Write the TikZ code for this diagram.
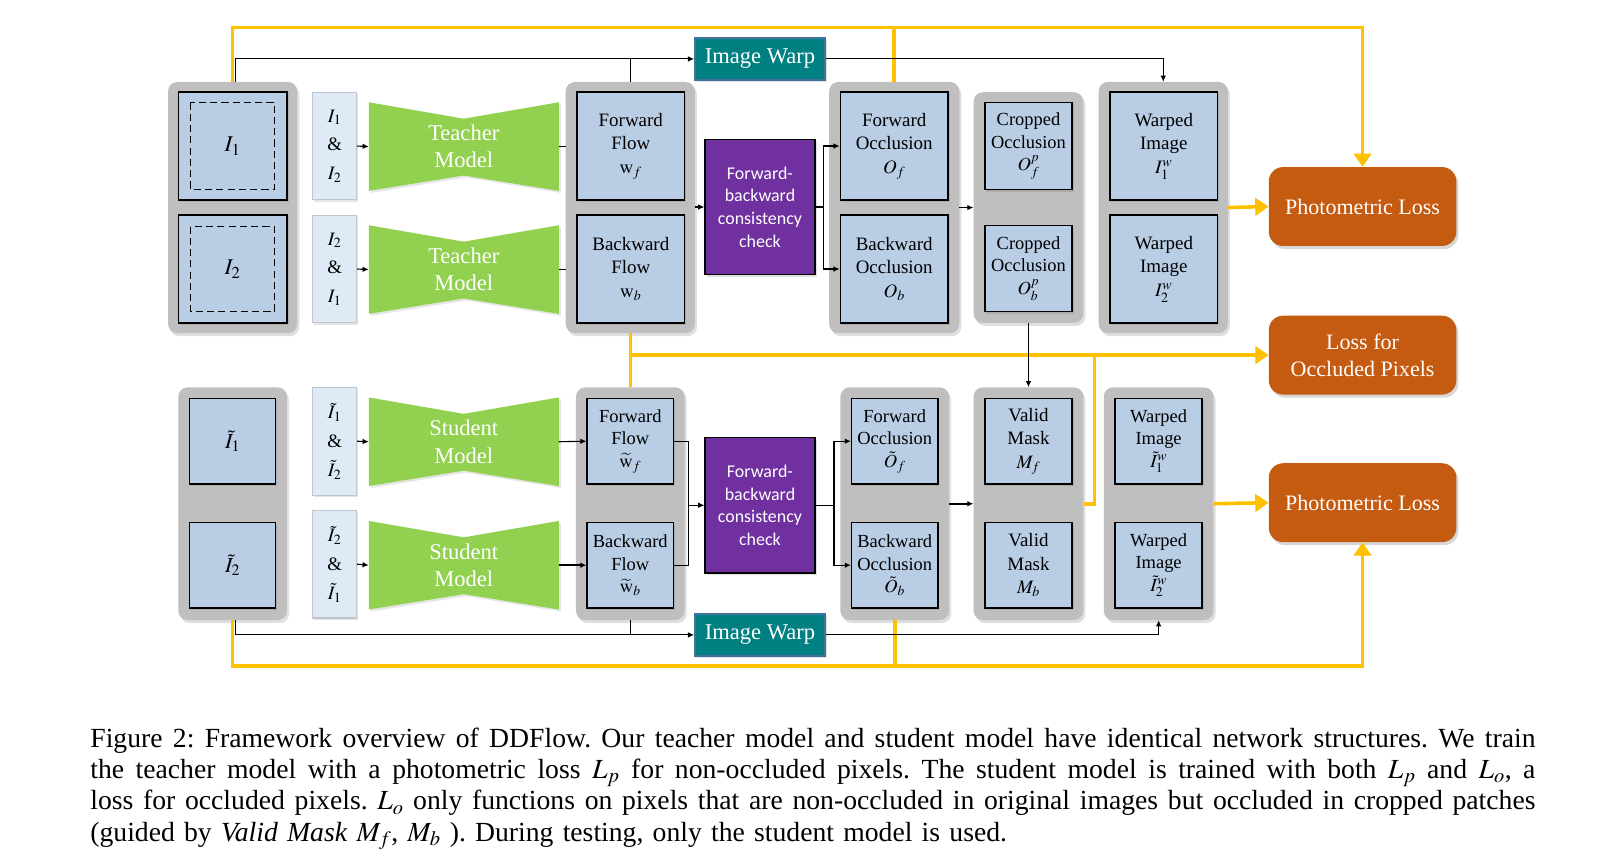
\documentclass[tikz,border=0pt]{standalone}
\usepackage{mathptmx}
\usepackage{fontspec}
\setmainfont{Liberation Serif}
\newfontfamily\calib{Carlito}
\usetikzlibrary{arrows.meta,shadows,calc}
\definecolor{boxblue}{HTML}{B9CDE5}
\definecolor{pairblue}{HTML}{DEEBF7}
\definecolor{pairedge}{HTML}{BFC6D0}
\definecolor{grp}{HTML}{BFBFBF}
\definecolor{modelgreen}{HTML}{92D050}
\definecolor{fbpurple}{HTML}{7030A0}
\definecolor{warpteal}{HTML}{008080}
\definecolor{warpedge}{HTML}{41719C}
\definecolor{lossorange}{HTML}{C55A11}
\definecolor{yel}{HTML}{FFC000}
\tikzset{
  grpbox/.style={fill=grp, rounded corners=9pt, draw=none,
    drop shadow={opacity=0.25, shadow xshift=2pt, shadow yshift=-3pt}},
  bbox/.style={fill=boxblue, draw=black, line width=1.5pt, align=center,
    inner sep=0pt, font=\fontsize{18.5}{23}\selectfont,
    drop shadow={opacity=0.3, shadow xshift=1.5pt, shadow yshift=-2pt}},
  pairbox/.style={fill=pairblue, draw=pairedge, line width=1pt, align=center,
    inner sep=0pt, minimum width=43pt, minimum height=105pt,
    font=\fontsize{18.5}{28}\selectfont,
    drop shadow={opacity=0.2, shadow xshift=1.5pt, shadow yshift=-2pt}},
  modelnode/.style={minimum width=185pt, minimum height=86pt, inner sep=0pt,
    align=center, text=white, font=\fontsize{22}{26.5}\selectfont},
  fbbox/.style={fill=fbpurple, draw=black, line width=1.5pt, align=center,
    text=white, minimum width=107pt, minimum height=132pt, inner sep=0pt,
    font=\calib\fontsize{17.5}{22}\selectfont,
    drop shadow={opacity=0.25, shadow xshift=2pt, shadow yshift=-2pt}},
  warpbox/.style={fill=warpteal, draw=warpedge, line width=1.5pt, text=white,
    minimum width=127pt, minimum height=41pt, inner sep=0pt,
    font=\fontsize{22}{26}\selectfont,
    drop shadow={opacity=0.25, shadow xshift=2pt, shadow yshift=-2pt}},
  lossbox/.style={fill=lossorange, rounded corners=14pt, text=white, align=center,
    minimum width=183pt, minimum height=77pt, inner sep=0pt,
    font=\fontsize{21.5}{26}\selectfont,
    drop shadow={opacity=0.3, shadow xshift=2pt, shadow yshift=-3pt}},
  yl/.style={draw=yel, line width=3.5pt},
  yarr/.style={yl, -{Triangle[width=17pt,length=13pt]}},
  bl/.style={draw=black, line width=1.1pt},
  barr/.style={bl, -{Latex[length=6pt,width=5.5pt]}},
  dashbox/.style={draw=black, dashed, dash pattern=on 7pt off 4pt, line width=1.3pt}
}
\newcommand{\modelshape}[1]{%
  \fill[modelgreen, drop shadow={opacity=0.2, shadow xshift=2pt, shadow yshift=-2pt}]
    (#1.north west) -- ($(#1.north)+(0,16)$) -- (#1.north east) -- (#1.south east)
    -- ($(#1.south)+(0,-15)$) -- (#1.south west) -- cycle;}
\newcommand{\capline}[1]{\leavevmode{\spaceskip=0.25em plus 0.5em minus 0.1em\relax
  \xspaceskip=\spaceskip\hbox to 1410pt{#1}}}
\begin{document}
\begin{tikzpicture}[x=1pt,y=-1pt]
\fill[white] (0,0) rectangle (1568,846);
\useasboundingbox (0,0) rectangle (1568,846);

% ---------------- top row ----------------
\node[grpbox, minimum width=126pt, minimum height=245pt] (g1) at (227,202.5) {};
\node[bbox, minimum width=106pt, minimum height=105pt] (i1) at (227,142.5) {\fontsize{22}{26}\selectfont $I_1$};
\node[bbox, minimum width=106pt, minimum height=105pt] (i2) at (227,262.5) {\fontsize{22}{26}\selectfont $I_2$};
\draw[dashbox] (186,100) rectangle (268,185);
\draw[dashbox] (186,221) rectangle (268,304);

\node[pairbox] (p1) at (326.5,142.5) {$I_1$\\\&\\$I_2$};
\node[pairbox] (p2) at (326.5,262.5) {$I_2$\\\&\\$I_1$};

\node[modelnode] (t1) at (452.5,143) {};
\node[modelnode] (t2) at (452.5,263) {};
\modelshape{t1}\modelshape{t2}
\node[modelnode] at (t1) {Teacher\\Model};
\node[modelnode] at (t2) {Teacher\\Model};

\node[grpbox, minimum width=126pt, minimum height=245pt] (g2) at (615,202.5) {};
\node[bbox, minimum width=105pt, minimum height=105pt] (wf) at (615.5,142.5) {Forward\\Flow\\$\mathrm{w}_f$};
\node[bbox, minimum width=105pt, minimum height=105pt] (wb) at (615.5,262.5) {Backward\\Flow\\$\mathrm{w}_b$};

\node[fbbox] (fb1) at (741.5,202) {Forward-\\backward\\consistency\\check};

\node[grpbox, minimum width=127pt, minimum height=245pt] (g3) at (872.5,202.5) {};
\node[bbox, minimum width=105pt, minimum height=105pt] (of) at (872.5,142.5) {Forward\\Occlusion\\$O_f$};
\node[bbox, minimum width=105pt, minimum height=105pt] (ob) at (872.5,262.5) {Backward\\Occlusion\\$O_b$};

\node[grpbox, minimum width=107pt, minimum height=225pt] (g4) at (1003.5,202.5) {};
\node[bbox, minimum width=85pt, minimum height=85pt, font=\fontsize{18}{22}\selectfont] (cf) at (1003.5,142.5) {Cropped\\Occlusion\\$O_f^p$};
\node[bbox, minimum width=85pt, minimum height=84pt, font=\fontsize{18}{22}\selectfont] (cb) at (1003.5,262) {Cropped\\Occlusion\\$O_b^p$};

\node[grpbox, minimum width=126pt, minimum height=245pt] (g5) at (1135,202.5) {};
\node[bbox, minimum width=105pt, minimum height=105pt] (w1) at (1135.5,142.5) {Warped\\Image\\$I_1^w$};
\node[bbox, minimum width=105pt, minimum height=105pt] (w2) at (1135.5,262.5) {Warped\\Image\\$I_2^w$};

\node[warpbox] (iw1) at (741.5,57.5) {Image Warp};

\node[lossbox] (pl1) at (1329.5,201.5) {Photometric Loss};
\node[lossbox] (lo) at (1329.5,346.5) {Loss for\\Occluded Pixels};
\node[lossbox] (pl2) at (1329.5,490.5) {Photometric Loss};

% ---------------- bottom row ----------------
\node[grpbox, minimum width=106pt, minimum height=227pt] (h1) at (227,491.5) {};
\node[bbox, minimum width=84pt, minimum height=83pt] (si1) at (227,430.5) {\fontsize{21}{26}\selectfont $\tilde{I}_1$};
\node[bbox, minimum width=84pt, minimum height=83pt] (si2) at (227,551.5) {\fontsize{21}{26}\selectfont $\tilde{I}_2$};

\node[pairbox] (q1) at (326.5,430.5) {$\tilde{I}_1$\\\&\\$\tilde{I}_2$};
\node[pairbox] (q2) at (326.5,550.5) {$\tilde{I}_2$\\\&\\$\tilde{I}_1$};

\node[modelnode] (s1) at (452.5,431) {};
\node[modelnode] (s2) at (452.5,551.5) {};
\modelshape{s1}\modelshape{s2}
\node[modelnode] at (s1) {Student\\Model};
\node[modelnode] at (s2) {Student\\Model};

\node[grpbox, minimum width=106pt, minimum height=227pt] (h2) at (615,491.5) {};
\node[bbox, minimum width=84pt, minimum height=83pt, font=\fontsize{18}{22}\selectfont] (swf) at (615,430.5) {Forward\\Flow\\$\widetilde{\mathrm{w}}_f$};
\node[bbox, minimum width=84pt, minimum height=83pt, font=\fontsize{18}{22}\selectfont] (swb) at (615,551.5) {Backward\\Flow\\$\widetilde{\mathrm{w}}_b$};

\node[fbbox] (fb2) at (741.5,493) {Forward-\\backward\\consistency\\check};

\node[grpbox, minimum width=106pt, minimum height=227pt] (h3) at (873,491.5) {};
\node[bbox, minimum width=84pt, minimum height=83pt, font=\fontsize{18}{22}\selectfont] (sof) at (873,430.5) {Forward\\Occlusion\\$\tilde{O}_f$};
\node[bbox, minimum width=84pt, minimum height=83pt, font=\fontsize{18}{22}\selectfont] (sob) at (873,551.5) {Backward\\Occlusion\\$\tilde{O}_b$};

\node[grpbox, minimum width=107pt, minimum height=227pt] (h4) at (1003.5,491.5) {};
\node[bbox, minimum width=85pt, minimum height=83pt] (mf) at (1003.5,430.5) {Valid\\Mask\\$M_f$};
\node[bbox, minimum width=85pt, minimum height=83pt] (mb) at (1003.5,551.5) {Valid\\Mask\\$M_b$};

\node[grpbox, minimum width=107pt, minimum height=227pt] (h5) at (1130.5,491.5) {};
\node[bbox, minimum width=85pt, minimum height=83pt, font=\fontsize{18}{22}\selectfont] (sw1) at (1130.5,430.5) {Warped\\Image\\$\tilde{I}_1^w$};
\node[bbox, minimum width=85pt, minimum height=83pt, font=\fontsize{18}{22}\selectfont] (sw2) at (1130.5,551.5) {Warped\\Image\\$\tilde{I}_2^w$};

\node[warpbox] (iw2) at (741.5,619.5) {Image Warp};

% ---------------- coordinates ----------------
\coordinate (ytop) at (0,27);
\coordinate (ybot) at (0,650);
\coordinate (jn) at (1068,347);
\coordinate (sj) at (672,0);

% ---------------- yellow connectors ----------------
\draw[yarr] (g1.north) -- (g1.north |- ytop) -| (pl1.north);
\draw[yl] (g3.north) -- (g3.north |- ytop);
\draw[yarr] (g5.east) -- (pl1.west);
\draw[yl] (g2.south) -- (h2.north);
\draw[yarr] (g2.south |- lo.west) -- (lo.west);
\draw[yl] (h4.east) -| (jn);
\draw[yarr] (h5.east) -- (pl2.west);
\draw[yarr] (h1.south) -- (h1.south |- ybot) -| (pl2.south);
\draw[yl] (h3.south) -- (h3.south |- ybot);

% ---------------- black connectors, top ----------------
\draw[barr] ($(g1.north)+(3,0)$) |- (iw1.west);
\draw[bl] (g2.north) -- (g2.north |- iw1.west);
\draw[barr] (iw1.east) -| (g5.north);
\draw[barr] (p1.east) -- (t1.west);
\draw[barr] (p2.east) -- (t2.west);
\draw[bl] (t1.east) -- (g2.west |- t1.east);
\draw[bl] (t2.east) -- (g2.west |- t2.east);
\draw[barr] (g2.east |- fb1.west) -- (fb1.west);
\draw[barr] (fb1.east) -- ++(8,0) |- (of.west);
\draw[barr] (fb1.east) -- ++(8,0) |- (ob.west);
\draw[barr] (g3.east |- g4.west) -- (g4.west);
\draw[barr] (g4.south) -- (h4.north);

% ---------------- black connectors, bottom ----------------
\draw[barr] ($(h1.south)+(3,0)$) |- (iw2.west);
\draw[bl] (h2.south) -- (h2.south |- iw2.west);
\draw[barr] (iw2.east) -| (h5.south);
\draw[barr] (q1.east) -- (s1.west);
\draw[barr] (q2.east) -- (s2.west);
\draw[barr] (s1.east) -- (swf.west);
\draw[barr, line width=1.8pt] (s2.east) -- (swb.west);
\draw[bl] (swf.east) -| (sj |- swb.east) -- (swb.east);
\draw[barr] (sj |- fb2.west) -- (fb2.west);
\draw[barr] (fb2.east) -- ++(18,0) |- (sof.west);
\draw[barr] (fb2.east) -- ++(18,0) |- (sob.west);
\draw[barr, line width=1.5pt] (h3.east) -- (h4.west);

% ---------------- caption ----------------
\node[anchor=north west, inner sep=0pt, text width=1410pt, align=left,
  font=\fontsize{27}{30.5}\selectfont\frenchspacing] (cap) at (88,710) {%
\capline{Figure 2: Framework overview of DDFlow. Our teacher model and student model have identical network structures. We train}\\
\capline{the teacher model with a photometric loss $L_p$ for non-occluded pixels. The student model is trained with both $L_p$ and $L_o$, a}\\
\capline{loss for occluded pixels. $L_o$ only functions on pixels that are non-occluded in original images but occluded in cropped patches}\\
(guided by \textit{Valid Mask} $M_f$, $M_b$ ). During testing, only the student model is used.};
\end{tikzpicture}
\end{document}
